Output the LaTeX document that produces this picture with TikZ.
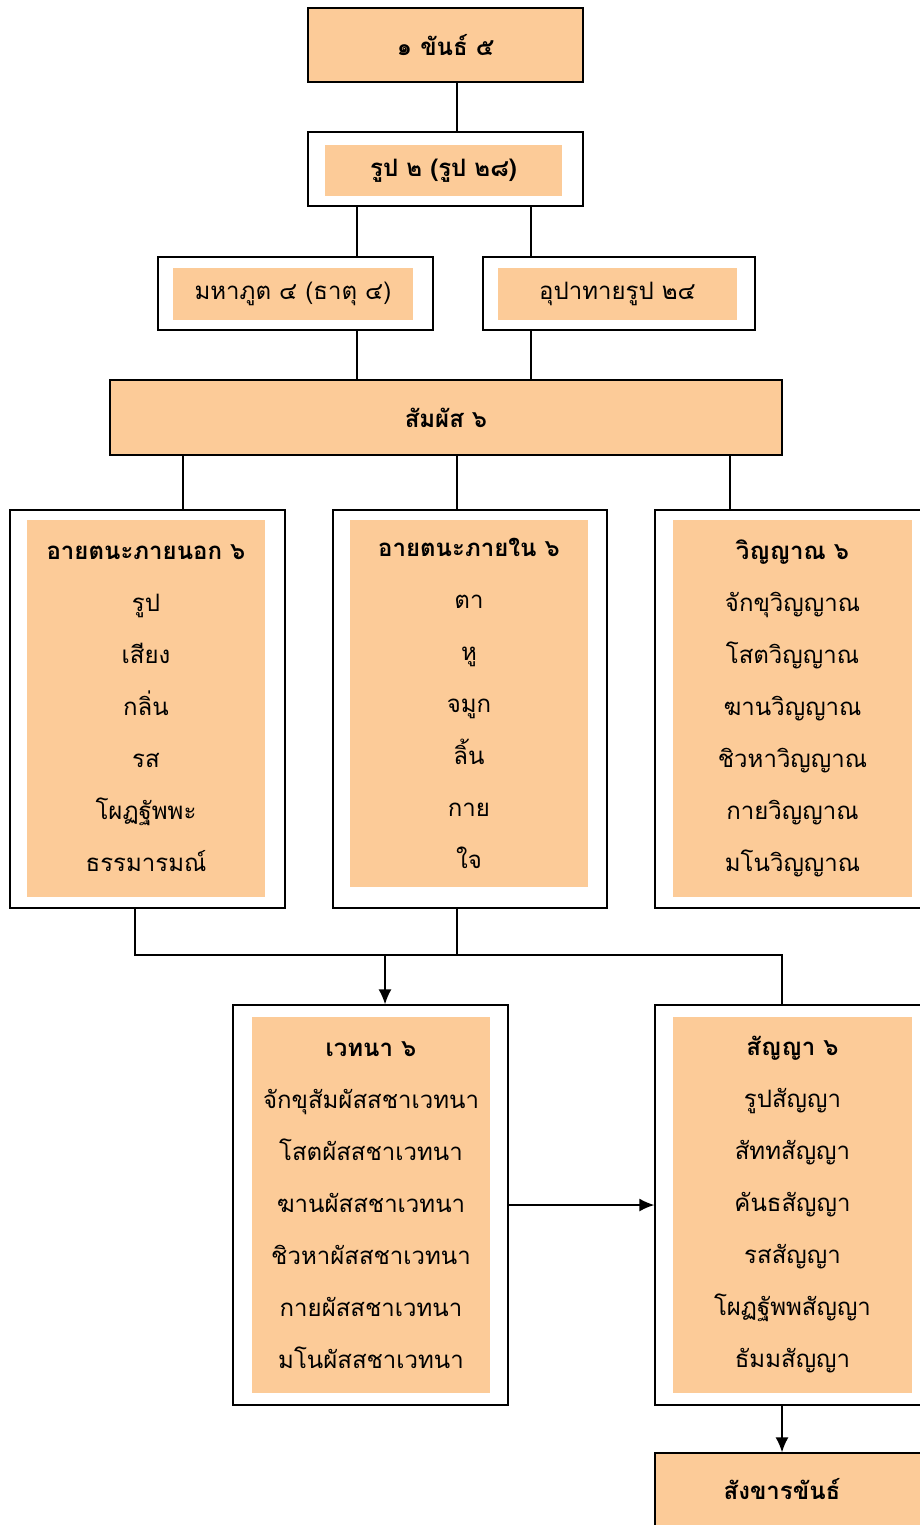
\documentclass[tikz,border=0pt]{standalone}
\usepackage{fontspec}
\newfontfamily\thaifont[Script=Thai]{Loma}
\usepackage{tikz}
\usetikzlibrary{calc}
\usetikzlibrary{shapes,arrows,arrows.meta}
\definecolor{peach}{RGB}{252,203,152}

\begin{document}
\begin{tikzpicture}[x=1pt,y=-1pt]
     \tikzstyle{every node}=[font=\thaifont\fontsize{24}{52}\selectfont,inner sep=0pt,align=center]
     \tikzstyle{outerbox}=[draw=black,line width=1.4pt,fill=white]
     \tikzstyle{innerbox}=[fill=peach]
     \tikzstyle{fullbox}=[draw=black,line width=1.4pt,fill=peach]
     \tikzstyle{link}=[line width=1.4pt]
     \tikzstyle{tip}=[-{Latex[length=15pt,width=13pt]}]
     \useasboundingbox (0,0) rectangle (920,1525);
      \coordinate (Axis)  at (457,0);
      \coordinate (LAxis) at (357,0);
      \coordinate (RAxis) at (531,0);
      \coordinate (ExtAx) at (183,0);
      \coordinate (VinAx) at (730,0);
      \coordinate (JoinL) at (135,955);
      \coordinate (JoinR) at (782,955);
      \coordinate (VedAx) at (385,955);
      % top
      \node[fullbox,minimum width=275,minimum height=74] (Khan) at (445.5,45) {\bfseries ๑ ขันธ์ ๕};
      \node[outerbox,minimum width=275,minimum height=74] (Rupa) at (445.5,169) {};
      \node[innerbox,minimum width=237,minimum height=51] (RupaIn) at (443.5,170.5) {\bfseries รูป ๒ (รูป ๒๘)};
      \node[outerbox,minimum width=275,minimum height=73] (Maha) at (295.5,293.5) {};
      \node[innerbox,minimum width=240,minimum height=52] (MahaIn) at (293,294) {มหาภูต ๔ (ธาตุ ๔)};
      \node[outerbox,minimum width=272,minimum height=73] (Upa) at (619,293.5) {};
      \node[innerbox,minimum width=239,minimum height=52] (UpaIn) at (617.5,294) {อุปาทายรูป ๒๔};
      \node[fullbox,minimum width=672,minimum height=75] (Phassa) at (446,417.5) {\bfseries สัมผัส ๖};
      % three columns
      \node[outerbox,minimum width=275,minimum height=398] (Ext) at (147.5,709) {};
      \node[innerbox,minimum width=238,minimum height=377] (ExtIn) at (146,708.5)
        {\bfseries อายตนะภายนอก ๖\\รูป\\เสียง\\กลิ่น\\รส\\โผฏฐัพพะ\\ธรรมารมณ์};
      \node[outerbox,minimum width=274,minimum height=398] (Int) at (470,709) {};
      \node[innerbox,minimum width=238,minimum height=367] (IntIn) at (469,703.5)
        {\bfseries อายตนะภายใน ๖\\ตา\\หู\\จมูก\\ลิ้น\\กาย\\ใจ};
      \node[outerbox,minimum width=270,minimum height=398] (Vin) at (790,709) {};
      \node[innerbox,minimum width=239,minimum height=377] (VinIn) at (792.5,708.5)
        {\bfseries วิญญาณ ๖\\จักขุวิญญาณ\\โสตวิญญาณ\\ฆานวิญญาณ\\ชิวหาวิญญาณ\\กายวิญญาณ\\มโนวิญญาณ};
      % bottom
      \node[outerbox,minimum width=275,minimum height=400] (Ved) at (370.5,1205) {};
      \node[innerbox,minimum width=238,minimum height=376] (VedIn) at (371,1205)
        {\bfseries เวทนา ๖\\จักขุสัมผัสสชาเวทนา\\โสตผัสสชาเวทนา\\ฆานผัสสชาเวทนา\\ชิวหาผัสสชาเวทนา\\กายผัสสชาเวทนา\\มโนผัสสชาเวทนา};
      \node[outerbox,minimum width=270,minimum height=400] (San) at (790,1205) {};
      \node[innerbox,minimum width=239,minimum height=376] (SanIn) at (792.5,1205)
        {\bfseries สัญญา ๖\\รูปสัญญา\\สัททสัญญา\\คันธสัญญา\\รสสัญญา\\โผฏฐัพพสัญญา\\ธัมมสัญญา};
      \node[fullbox,minimum width=270,minimum height=80] (Sank) at (790,1493) {};
      \node (SankTxt) at (782,1489) {\bfseries สังขารขันธ์};
      % connectors
      \draw[link] (Khan.south -| Axis) -- (Rupa.north -| Axis);
      \draw[link] (Rupa.south -| LAxis) -- (Maha.north -| LAxis);
      \draw[link] (Rupa.south -| RAxis) -- (Upa.north -| RAxis);
      \draw[link] (Maha.south -| LAxis) -- (Phassa.north -| LAxis);
      \draw[link] (Upa.south -| RAxis) -- (Phassa.north -| RAxis);
      \draw[link] (Phassa.south -| ExtAx) -- (Ext.north -| ExtAx);
      \draw[link] (Phassa.south -| Axis) -- (Int.north -| Axis);
      \draw[link] (Phassa.south -| VinAx) -- (Vin.north -| VinAx);
      \draw[link] (Ext.south -| JoinL) -- (JoinL) -- (JoinR) -- (San.north -| JoinR);
      \draw[link] (Int.south -| Axis) -- (JoinL -| Axis);
      \draw[link,tip] (VedAx) -- (Ved.north -| VedAx);
      \draw[link,tip] (Ved.east) -- (San.west);
      \draw[link,tip] (San.south -| JoinR) -- (Sank.north -| JoinR);
    \end{tikzpicture}
\end{document}
